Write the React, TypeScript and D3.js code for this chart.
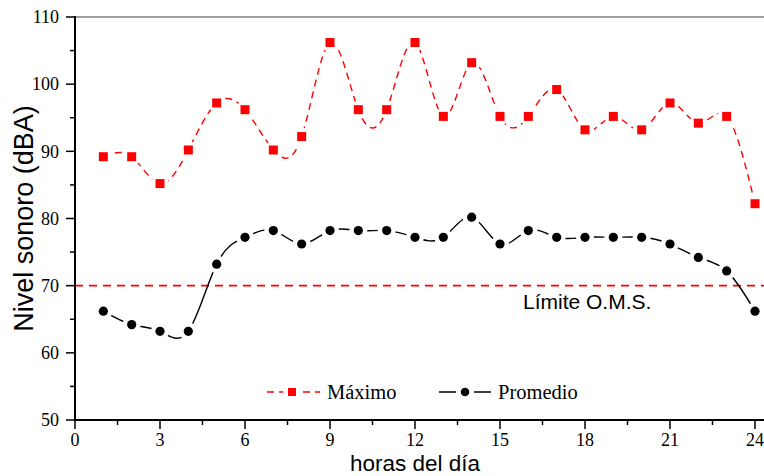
import * as d3 from 'd3'

const hours = [1, 2, 3, 4, 5, 6, 7, 8, 9, 10, 11, 12, 13, 14, 15, 16, 17, 18, 19, 20, 21, 22, 23, 24]
const maximo = [89.2, 89.2, 85.2, 90.2, 97.2, 96.2, 90.2, 92.2, 106.2, 96.2, 96.2, 106.2, 95.2, 103.2, 95.2, 95.2, 99.2, 93.2, 95.2, 93.2, 97.2, 94.2, 95.2, 82.2]
const promedio = [66.2, 64.2, 63.2, 63.2, 73.2, 77.2, 78.2, 76.2, 78.2, 78.2, 78.2, 77.2, 77.2, 80.2, 76.2, 78.2, 77.2, 77.2, 77.2, 77.2, 76.2, 74.2, 72.2, 66.2]
const xTicks = [0, 3, 6, 9, 12, 15, 18, 21, 24]
const xMinor = [1.5, 4.5, 7.5, 10.5, 13.5, 16.5, 19.5, 22.5]
const yTicks = [50, 60, 70, 80, 90, 100, 110]
const yMinor = [55, 65, 75, 85, 95, 105]
const limite = 70

const RED = '#ff0000'
const SANS = 'Liberation Sans, Arial, sans-serif'
const SERIF = 'Liberation Serif, Times New Roman, serif'

export default function App() {
  const width = 764
  const height = 476

  const x = d3.scaleLinear().domain([0, 24]).range([75, 755])
  const y = d3.scaleLinear().domain([50, 110]).range([420, 17])

  const line = d3.line<number>()
    .x((_, i) => x(hours[i]))
    .y(d => y(d))
    .curve(d3.curveNatural)

  const gap = 9

  return (
    <svg width={width} height={height} style={{position: 'absolute', left: 0, top: 0, background: '#fff'}}>
      <defs>
        <mask id='gapMax' maskUnits='userSpaceOnUse' x={0} y={0} width={width} height={height}>
          <rect width={width} height={height} fill='#fff' />
          {maximo.map((d, i) => <circle key={i} cx={x(hours[i])} cy={y(d)} r={gap} fill='#000' />)}
          <circle cx={292} cy={392} r={gap} fill='#000' />
        </mask>
        <mask id='gapProm' maskUnits='userSpaceOnUse' x={0} y={0} width={width} height={height}>
          <rect width={width} height={height} fill='#fff' />
          {promedio.map((d, i) => <circle key={i} cx={x(hours[i])} cy={y(d)} r={gap} fill='#000' />)}
          <circle cx={465} cy={392} r={gap} fill='#000' />
        </mask>
      </defs>

      {/* top frame line */}
      <line x1={x(0)} x2={width} y1={y(110)} y2={y(110)} stroke='#808080' strokeWidth={1.5} />

      {/* WHO limit */}
      <line x1={x(0)} x2={width} y1={y(limite)} y2={y(limite)} stroke={RED} strokeWidth={1.7} strokeDasharray='8,6' />
      <text x={523} y={309} fontFamily={SANS} fontSize={21} fill='#000'>Límite O.M.S.</text>

      {/* series */}
      <path d={line(maximo) ?? undefined} fill='none' stroke={RED} strokeWidth={1.4} strokeDasharray='7,5' mask='url(#gapMax)' />
      <path d={line(promedio) ?? undefined} fill='none' stroke='#000' strokeWidth={1.4} mask='url(#gapProm)' />
      {maximo.map((d, i) => (
        <rect key={i} x={x(hours[i]) - 4.5} y={y(d) - 4.5} width={9} height={9} fill={RED} />
      ))}
      {promedio.map((d, i) => (
        <circle key={i} cx={x(hours[i])} cy={y(d)} r={4.6} fill='#000' />
      ))}

      {/* legend */}
      <g mask='url(#gapMax)'>
        <line x1={267} x2={320} y1={392} y2={392} stroke={RED} strokeWidth={1.4} strokeDasharray='7,5' />
      </g>
      <rect x={288} y={388} width={8} height={8} fill={RED} />
      <text x={327} y={399} fontFamily={SERIF} fontSize={20.5}>Máximo</text>
      <g mask='url(#gapProm)'>
        <line x1={439} x2={491} y1={392} y2={392} stroke='#000' strokeWidth={1.6} />
      </g>
      <circle cx={465} cy={392} r={4.3} fill='#000' />
      <text x={498} y={399} fontFamily={SERIF} fontSize={20.5}>Promedio</text>

      {/* y axis */}
      <line x1={x(0)} x2={x(0)} y1={y(110) - 1} y2={y(50) + 1} stroke='#000' strokeWidth={2} />
      {yTicks.map(t => (
        <g key={t}>
          <line x1={x(0) - 9} x2={x(0)} y1={y(t)} y2={y(t)} stroke='#000' strokeWidth={1.5} />
          <text x={59} y={y(t)} dy='0.35em' textAnchor='end' fontFamily={SERIF} fontSize={18}>{t}</text>
        </g>
      ))}
      {yMinor.map(t => (
        <line key={t} x1={x(0) - 5} x2={x(0)} y1={y(t)} y2={y(t)} stroke='#000' strokeWidth={1.5} />
      ))}

      {/* x axis */}
      <line x1={x(0) - 1} x2={width} y1={y(50)} y2={y(50)} stroke='#000' strokeWidth={2} />
      {xTicks.map(t => (
        <g key={t}>
          <line x1={x(t)} x2={x(t)} y1={y(50)} y2={y(50) + 9} stroke='#000' strokeWidth={1.5} />
          <text x={x(t)} y={446} textAnchor='middle' fontFamily={SERIF} fontSize={18}>{t}</text>
        </g>
      ))}
      {xMinor.map(t => (
        <line key={t} x1={x(t)} x2={x(t)} y1={y(50)} y2={y(50) + 5} stroke='#000' strokeWidth={1.5} />
      ))}

      {/* axis titles */}
      <text x={415} y={471} textAnchor='middle' fontFamily={SANS} fontSize={22.5}>horas del día</text>
      <text transform={`translate(33, ${(y(50) + y(110)) / 2}) rotate(-90)`} textAnchor='middle' fontFamily={SANS} fontSize={27}>
        Nivel sonoro (dBA)
      </text>
    </svg>
  )
}
